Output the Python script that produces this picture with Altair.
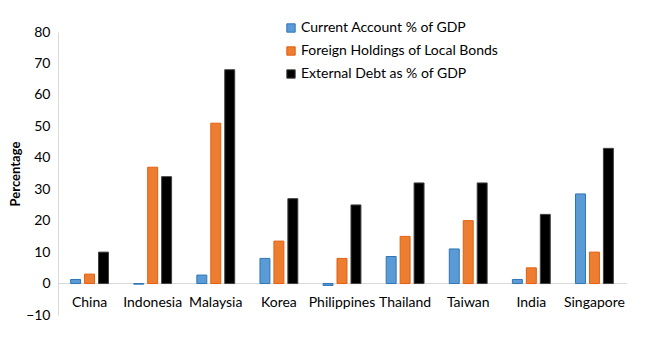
import altair as alt
import pandas as pd

countries = ["China", "Indonesia", "Malaysia", "Korea", "Philippines", "Thailand", "Taiwan", "India", "Singapore"]
series = ["Current Account % of GDP", "Foreign Holdings of Local Bonds", "External Debt as % of GDP"]
current_account = [1.3, -0.2, 2.7, 8.0, -0.6, 8.6, 11.0, 1.3, 28.5]
foreign_holdings = [3.0, 37.0, 51.0, 13.5, 8.0, 15.0, 20.0, 5.0, 10.0]
external_debt = [10.0, 34.0, 68.0, 27.0, 25.0, 32.0, 32.0, 22.0, 43.0]
fills = ["#5B9BD5", "#ED7D31", "#000000"]
strokes = ["#2E75B6", "#E2600F", "#404040"]

rows = []
for s, vals in zip(series, [current_account, foreign_holdings, external_debt]):
    for c, v in zip(countries, vals):
        rows.append({"Country": c, "Series": s, "Value": v})
df = pd.DataFrame(rows)

FONT = "Lato"

bars = alt.Chart(df).mark_bar(strokeWidth=1).encode(
    x=alt.X("Country:N", sort=countries,
            scale=alt.Scale(paddingInner=0.4, paddingOuter=0.2),
            axis=alt.Axis(title=None, orient="bottom", offset=-32, labelAngle=0,
                          labelFontSize=14, labelColor="#000", labelFont=FONT,
                          labelPadding=12, ticks=False, domainColor="#d9d9d9",
                          domainWidth=1)),
    xOffset=alt.XOffset("Series:N", sort=series,
                        scale=alt.Scale(paddingInner=0.286, paddingOuter=0)),
    y=alt.Y("Value:Q", scale=alt.Scale(domain=[-10, 80], nice=False),
            axis=alt.Axis(title="Percentage", values=list(range(-10, 81, 10)),
                          grid=False, ticks=False, domainColor="#d9d9d9",
                          labelFontSize=14, labelColor="#000", labelFont=FONT,
                          labelPadding=8, titleFont=FONT, titleFontSize=13,
                          titleFontWeight="bold", titleColor="#000",
                          titlePadding=3)),
    color=alt.Color("Series:N", sort=series,
                    scale=alt.Scale(domain=series, range=fills),
                    legend=alt.Legend(title=None, orient="none", legendX=226, legendY=-11,
                                      symbolType="square", symbolSize=70,
                                      symbolStrokeWidth=1, rowPadding=9,
                                      labelFontSize=14, labelFont=FONT, labelLimit=0,
                                      labelColor="#000", labelOffset=3)),
    stroke=alt.Stroke("Series:N", sort=series,
                      scale=alt.Scale(domain=series, range=strokes), legend=None),
)

chart = bars.properties(
    width=568, height=283,
    background="white",
    autosize=alt.AutoSizeParams(type="none"),
    padding={"left": 50, "top": 24, "right": 20, "bottom": 40},
).configure_view(stroke=None)

chart.save("out.html", embed_options={"renderer": "svg", "actions": False})
